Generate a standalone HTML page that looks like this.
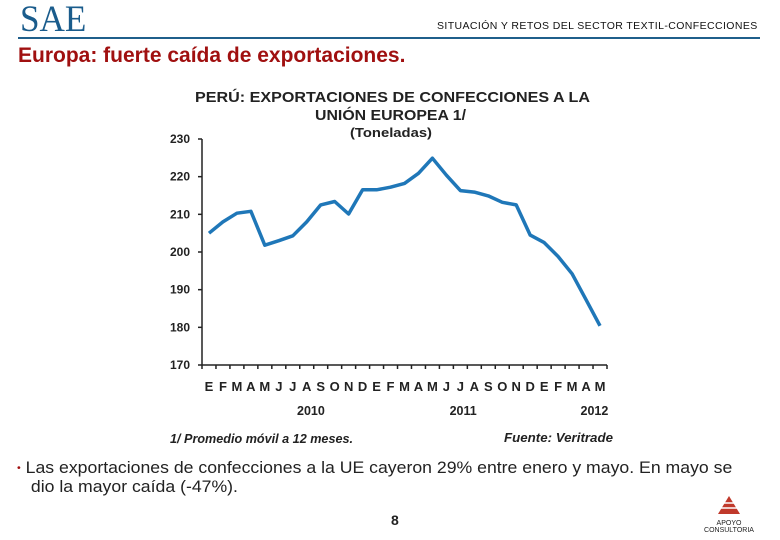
<!DOCTYPE html>
<html><head><meta charset="utf-8"><style>
body{margin:0;width:780px;height:540px;background:#fff;overflow:hidden;position:relative;font-family:"Liberation Sans",sans-serif}
.abs{position:absolute}
</style></head><body>
<div class="abs" style="left:20px;top:-2px;font-family:'Liberation Serif',serif;font-size:37px;color:#1a5c8c;letter-spacing:0px;transform:scaleX(0.95);transform-origin:left">SAE</div>
<div class="abs" style="left:437px;top:20px;font-size:10.5px;color:#111;letter-spacing:0.4px">SITUACIÓN Y RETOS DEL SECTOR TEXTIL-CONFECCIONES</div>
<div class="abs" style="left:18px;top:37px;width:742px;height:2px;background:#1f5f8b"></div>
<div class="abs" style="left:18px;top:44px;font-size:21px;font-weight:bold;color:#a01010;white-space:nowrap">Europa: fuerte caída de exportaciones.</div>
<svg class="abs" style="left:0;top:0" width="780" height="540">
<g font-family="Liberation Sans, sans-serif" font-weight="bold" fill="#222">
<text x="195" y="102" font-size="15" textLength="395" lengthAdjust="spacingAndGlyphs">PERÚ: EXPORTACIONES DE CONFECCIONES A LA</text>
<text x="315" y="120" font-size="15" textLength="151" lengthAdjust="spacingAndGlyphs">UNIÓN EUROPEA 1/</text>
<text x="350" y="137" font-size="13" textLength="82" lengthAdjust="spacingAndGlyphs">(Toneladas)</text>
</g>
<g id="axes"></g>
<path id="line" fill="none" stroke="#1f77b8" stroke-width="3.5" stroke-linejoin="round"/>
<g font-family="Liberation Sans, sans-serif" font-weight="bold" font-style="italic" font-size="12.5" fill="#222">
<text x="170" y="443" textLength="183" lengthAdjust="spacingAndGlyphs">1/ Promedio móvil a 12 meses.</text>
<text x="504" y="442" textLength="109" lengthAdjust="spacingAndGlyphs">Fuente: Veritrade</text>
</g>
</svg>
<div class="abs" style="left:17px;top:459px;width:740px;font-size:16.5px;line-height:19px;color:#222;transform:scaleX(1.07);transform-origin:left;white-space:nowrap"><span style="color:#a01010;font-size:10px;vertical-align:2px">•</span> Las exportaciones de confecciones a la UE cayeron 29% entre enero y mayo. En mayo se<br><span style="padding-left:13px">dio la mayor caída (-47%).</span></div>
<div class="abs" style="left:391px;top:512px;font-size:14px;font-weight:bold;color:#222">8</div>
<div class="abs" style="left:697px;top:495px;width:64px;text-align:center">
<svg width="24" height="20"><polygon points="12,1 23,19 1,19" fill="#c0392b"/><line x1="4" y1="13" x2="20" y2="13" stroke="#fff" stroke-width="1.5"/><line x1="7" y1="8" x2="17" y2="8" stroke="#fff" stroke-width="1.5"/></svg>
<div style="font-size:7px;line-height:7px;color:#222">APOYO<br>CONSULTORIA</div></div>
<script>
const months=["E","F","M","A","M","J","J","A","S","O","N","D","E","F","M","A","M","J","J","A","S","O","N","D","E","F","M","A","M"];
const values=[205,208,210.3,210.8,201.8,203,204.3,208,212.5,213.4,210.1,216.5,216.5,217.2,218.2,220.9,224.9,220.4,216.3,215.9,214.9,213.2,212.5,204.5,202.5,198.8,194.2,187.3,180.4];
const yTicks=[170,180,190,200,210,220,230];
const years=[["2010",7.3],["2011",18.2],["2012",27.6]];
const X0=202,X1=607,Y0=365,Y1=139,YMIN=170,YMAX=230;
const bw=(X1-X0)/months.length;
const xs=i=>X0+bw*(i+0.5);
const ys=v=>Y0-(v-YMIN)/(YMAX-YMIN)*(Y0-Y1);
const NS="http://www.w3.org/2000/svg";
const ax=document.getElementById('axes');
function mk(t,a){const e=document.createElementNS(NS,t);for(const k in a)e.setAttribute(k,a[k]);ax.appendChild(e);return e;}
let e=mk('line',{x1:X0,y1:Y1,x2:X0,y2:Y0,stroke:'#222','stroke-width':1.5});


e=mk('line',{x1:X0,y1:Y0,x2:X1,y2:Y0,stroke:'#222','stroke-width':1.5});


yTicks.forEach(v=>{
 mk('line',{x1:X0-4,y1:ys(v),x2:X0,y2:ys(v),stroke:'#222','stroke-width':1.5});
 const t=mk('text',{x:X0-12,y:ys(v)+4,'text-anchor':'end','font-size':12,'font-weight':'bold','font-family':'Liberation Sans, sans-serif',fill:'#222'});
 t.textContent=v;
 
 
});
for(let i=0;i<=months.length;i++)mk('line',{x1:X0+bw*i,y1:Y0,x2:X0+bw*i,y2:Y0+4,stroke:'#222','stroke-width':1.5});
months.forEach((m,i)=>{
 const t=mk('text',{x:xs(i),y:391,'text-anchor':'middle','font-size':13,'font-weight':'bold','font-family':'Liberation Sans, sans-serif',fill:'#222'});
 t.textContent=m;
 
 
});
years.forEach(([y,i])=>{
 const t=mk('text',{x:xs(i),y:415,'text-anchor':'middle','font-size':12.5,'font-weight':'bold','font-family':'Liberation Sans, sans-serif',fill:'#222'});
 t.textContent=y;
 
 
});
document.getElementById('line').setAttribute('d',values.map((v,i)=>(i?'L':'M')+xs(i).toFixed(1)+','+ys(v).toFixed(1)).join(''));
</script>
</body></html>
